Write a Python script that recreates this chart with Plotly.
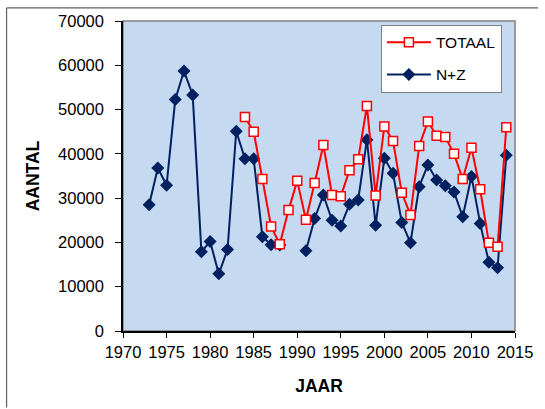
import plotly.graph_objects as go

years_nz = list(range(1973, 2015))
nz = [28500, 36800, 32900, 52300, 58700, 53300, 17900, 20200, 12900, 18400,
      45100, 38900, 38900, 21300, 19500, 19400, None, None, 18100, 25400,
      30700, 25000, 23700, 28600, 29600, 43200, 23900, 39000, 35600, 24500,
      19900, 32600, 37500, 34100, 32800, 31400, 25800, 34900, 24300, 15500,
      14300, 39700]

years_tot = list(range(1984, 2015))
totaal = [48300, 45000, 34300, 23600, 19600, 27300, 33900, 25100, 33400, 42000,
          30700, 30400, 36300, 38800, 50800, 30600, 46200, 42900, 31200, 26200,
          41800, 47300, 44100, 43800, 40000, 34300, 41400, 32000, 19900, 19000,
          46000]

W, H = 545, 409
L, R, T, B = 122.5, 521.5, 17.3, 331.5
pw, ph = R - L, B - T

fig = go.Figure()
fig.add_trace(go.Scatter(
    x=years_nz, y=nz, name="N+Z", mode="lines+markers",
    line=dict(color="#002060", width=2),
    marker=dict(symbol="diamond", size=10, color="#002060"),
    connectgaps=False, legendrank=2, legendgroup="b"))
fig.add_trace(go.Scatter(
    x=years_tot, y=totaal, name="TOTAAL", mode="lines+markers",
    line=dict(color="#FF0000", width=2),
    marker=dict(symbol="square", size=9, color="white",
                line=dict(color="#FF0000", width=1.5)),
    legendrank=1, legendgroup="a"))

px_x = lambda p: (p - L) / pw
px_y = lambda p: 1 - (p - T) / ph

font = "Liberation Sans, Arial, sans-serif"
fig.update_layout(
    width=W, height=H,
    margin=dict(l=L, r=W - R, t=T, b=H - B, pad=0),
    paper_bgcolor="white", plot_bgcolor="#C5D9F1",
    font=dict(family=font, size=16.5, color="black"),
    showlegend=True,
    legend=dict(x=px_x(385), y=px_y(21),
                xanchor="left", yanchor="top",
                bgcolor="white", bordercolor="#808080", borderwidth=1,
                font=dict(size=15.5), tracegroupgap=9,
                entrywidth=118, itemwidth=44),
    shapes=[
        dict(type="rect", xref="paper", yref="paper", x0=0, x1=1, y0=0, y1=1,
             line=dict(color="#808080", width=1.5), layer="below"),
        dict(type="line", xref="paper", yref="paper",
             x0=px_x(4), x1=px_x(W), y0=px_y(4), y1=px_y(4),
             line=dict(color="#606060", width=1.2)),
        dict(type="line", xref="paper", yref="paper",
             x0=px_x(4), x1=px_x(4), y0=px_y(4), y1=px_y(H),
             line=dict(color="#606060", width=1.2)),
    ],
)
fig.update_xaxes(
    range=[1970, 2015], dtick=5, tick0=1970,
    showline=True, linecolor="black", linewidth=1.5,
    ticks="outside", ticklen=5, tickcolor="black", tickwidth=1,
    showgrid=False, zeroline=False,
    title=dict(text="<b>JAAR</b>", font=dict(size=17.5), standoff=20),
)
fig.update_yaxes(
    range=[0, 70000], dtick=10000, tickformat="d",
    showline=True, linecolor="black", linewidth=1.5,
    ticks="outside", ticklen=6, tickcolor="black", tickwidth=1,
    ticklabelstandoff=8,
    showgrid=False, zeroline=False,
    title=dict(text="<b>AANTAL</b>", font=dict(size=17.5), standoff=14),
)

fig.write_html("out.html", config={"displayModeBar": False},
               post_script="document.body.style.margin='0';document.body.style.overflow='hidden';")
